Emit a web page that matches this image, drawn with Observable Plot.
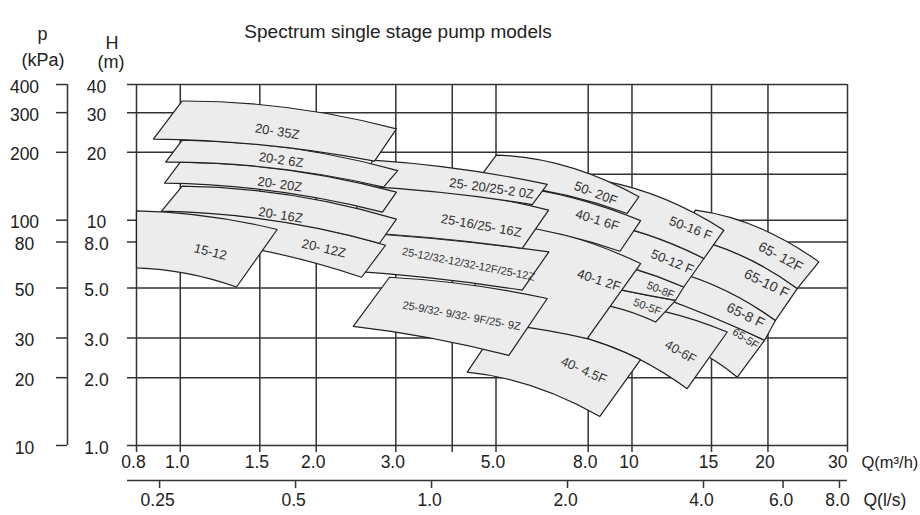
<!DOCTYPE html>
<html>
<head>
<meta charset="utf-8">
<script src="https://cdn.jsdelivr.net/npm/d3@7"></script>
<script src="https://cdn.jsdelivr.net/npm/@observablehq/plot@0.6"></script>
<style>
  html, body { margin: 0; padding: 0; background: #fff; }
  #chart { width: 920px; height: 515px; }
</style>
</head>
<body>
<div id="chart"></div>
<script>
// ---------- data ----------
// Gridlines and tick labels
const qGrid = [0.8, 1, 1.5, 2, 3, 4, 5, 8, 10, 15, 20, 30];            // Q (m3/h) vertical gridlines
const qTicks = [0.8, 1, 1.5, 2, 3, 5, 8, 10, 15, 20, 30];
const qTickLabels = ["0.8", "1.0", "1.5", "2.0", "3.0", "5.0", "8.0", "10", "15", "20", "30"];
const lsTicks = [0.25, 0.5, 1, 2, 4, 6, 8];                              // Q (l/s)
const lsTickLabels = ["0.25", "0.5", "1.0", "2.0", "4.0", "6.0", "8.0"];
const hGrid = [1, 2, 3, 5, 8, 10, 20, 30, 40];                           // H (m)
const hTickLabels = ["1.0", "2.0", "3.0", "5.0", "8.0", "10", "20", "30", "40"];
const pTicks = [10, 20, 30, 50, 80, 100, 200, 300, 400];                  // p (kPa)
const partialGridH = 16;
const partialGridQ = [4.5, 30];

// Pump model patches (drawing order: back to front)
// each patch: top edge (left, middle, right) and bottom edge (left, middle, right)
const patches = ["65-5F", "65-8F", "65-10F", "65-12F", "40-6F", "50-5F", "50-8F", "50-12F", "50-16F", "40-4.5F",
  "40-12F", "40-16F", "50-20F", "25-9", "25-12", "25-16", "25-20", "20-12Z", "20-16Z", "20-20Z", "20-26Z", "20-35Z", "15-12"];
const topQ = [
  [11.28, 15.08, 19.66], [11.57, 15.55, 20.78], [12.81, 17.4, 23.22], [13.82, 18.97, 25.93],
  [8.52, 11.75, 16.25], [7.31, 9.53, 12.49], [7.502, 9.93, 13.02], [8.1, 10.88, 14.43], [8.7, 11.81, 15.98], [5.066, 7.274, 10.45],
  [4.281, 6.671, 10.45], [4.504, 6.842, 10.45], [5.007, 7.199, 10.36],
  [2.905, 4.346, 6.494], [2.382, 3.946, 6.546], [2.533, 4.068, 6.537], [2.665, 4.173, 6.494],
  [0.909, 1.609, 2.847], [1.01, 1.75, 3.01], [1.0, 1.736, 3.01], [1.01, 1.75, 3.03], [1.01, 1.75, 3.01], [0.8, 1.143, 1.639]];
const topH = [
  [4.64, 3.71, 2.93], [6.12, 5.04, 3.59], [8.49, 6.99, 4.97], [11.08, 9.31, 6.53],
  [4.32, 3.94, 3.19], [5.52, 4.89, 4.41], [6.99, 6.15, 5.05], [10, 8.58, 6.76], [14.9, 12.4, 9.03], [3.415, 3.131, 2.404],
  [10, 8.89, 6.42], [14.6, 13.05, 9.95], [19.45, 17.29, 12.7],
  [5.58, 5.17, 4.49], [8.84, 8.15, 7.23], [14.3, 13.32, 11.08], [18.48, 16.86, 14.41],
  [10.96, 10.0, 7.74], [14.16, 12.92, 10.1], [18.1, 16.68, 13.32], [22.68, 20.89, 16.6], [33.8, 31.5, 25.4], [11.0, 10.42, 9.09]];
const bottomQ = [
  [10.99, 13.76, 17.11], [11.28, 15.08, 19.66], [11.57, 15.55, 20.78], [12.81, 17.4, 23.22],
  [7.975, 10.29, 13.25], [6.947, 8.96, 11.28], [7.31, 9.53, 12.49], [7.502, 9.93, 13.02], [8.1, 10.88, 14.43], [4.318, 6.055, 8.49],
  [4.621, 6.055, 7.96], [4.281, 6.339, 9.41], [4.504, 6.637, 9.76],
  [2.415, 3.581, 5.339], [2.322, 3.637, 5.715], [2.382, 3.692, 5.715], [2.533, 3.906, 6.015],
  [0.817, 1.431, 2.52], [0.909, 1.584, 2.762], [0.923, 1.609, 2.803], [0.928, 1.617, 2.818], [0.872, 1.528, 2.692], [0.8, 1.032, 1.332]];
const bottomH = [
  [3.08, 2.67, 2.01], [4.64, 3.71, 2.93], [6.12, 5.04, 3.59], [8.49, 6.99, 4.97],
  [2.973, 2.436, 1.787], [4.41, 4.15, 3.53], [5.52, 4.89, 4.41], [6.99, 6.15, 5.05], [10, 8.58, 6.76], [2.118, 1.829, 1.346],
  [3.522, 3.311, 2.98], [10, 9.03, 7.28], [14.6, 13.32, 10.71],
  [3.38, 3.0, 2.51], [5.97, 5.52, 4.89], [8.84, 8.32, 7.49], [14.16, 13.18, 11.72],
  [8.49, 7.51, 5.58], [10.96, 10.0, 7.9], [14.6, 13.46, 10.85], [18.1, 17.02, 14.02], [22.9, 21.54, 18.29], [6.14, 5.8, 5.05]];

// Patch labels
const labelText = ["20- 35Z", "20-2 6Z", "20- 20Z", "20- 16Z", "20- 12Z", "15-12", "25- 20/25-2 0Z", "25-16/25- 16Z",
  "25-12/32-12/32-12F/25-12Z", "25-9/32- 9/32- 9F/25- 9Z", "50- 20F", "40-1 6F", "40-1 2F", "50-16 F", "50-12 F",
  "50-8F", "50-5F", "65- 12F", "65-10 F", "65-8 F", "65-5F", "40-6F", "40- 4.5F"];
const labelQ = [1.639, 1.673, 1.661, 1.667, 2.079, 1.166, 4.888, 4.638, 4.346, 4.195, 8.31, 8.38, 8.45, 13.48, 12.28,
  11.57, 10.81, 21.33, 19.86, 17.84, 17.84, 12.81, 7.82];
const labelH = [24.69, 18.48, 14.41, 10.52, 7.49, 7.23, 13.83, 9.44, 6.37, 3.76, 13.14, 10, 5.41, 9.19, 6.53,
  4.89, 4.12, 6.87, 5.23, 3.78, 2.98, 2.6, 2.154];
const labelAngle = [9, 8, 8, 9, 13, 14, 8, 10, 11, 10.5, 21, 17, 18, 21, 22, 22, 21, 28, 26, 26, 33, 30, 24];

// ---------- styles ----------
const smallLabels = new Set(["50-8F", "50-5F", "65-5F", "25-12/32-12/32-12F/25-12Z", "25-9/32- 9/32- 9F/25- 9Z"]);
const largeLabels = new Set(["65- 12F", "65-10 F", "65-8 F"]);
const gridColor = "#333";
const inkColor = "#222";
const tickFont = 17.5;

// ---------- derived tables ----------
const patchRows = [];
patches.forEach((name, i) => {
  const pts = [
    [topQ[i][0], topH[i][0]], [topQ[i][1], topH[i][1]], [topQ[i][2], topH[i][2]],
    [bottomQ[i][2], bottomH[i][2]], [bottomQ[i][1], bottomH[i][1]], [bottomQ[i][0], bottomH[i][0]]
  ];
  pts.forEach(([q, h]) => patchRows.push({name, q, h}));
});
const labelRows = labelText.map((t, i) => ({
  t, q: labelQ[i], h: labelH[i], a: labelAngle[i],
  s: smallLabels.has(t) ? 11 : largeLabels.has(t) ? 14 : 13
}));

// Custom curve: 6 points -> curved top (3 pts), straight side, curved bottom (3 pts), straight side
function patchCurve(context) {
  let pts = [];
  const ctrl = (a, m, b) => [2 * m[0] - (a[0] + b[0]) / 2, 2 * m[1] - (a[1] + b[1]) / 2];
  return {
    areaStart() {}, areaEnd() {},
    lineStart() { pts = []; },
    point(x, y) { pts.push([+x, +y]); },
    lineEnd() {
      if (pts.length < 6) return;
      const [t0, t1, t2, b2, b1, b0] = pts;
      const ct = ctrl(t0, t1, t2), cb = ctrl(b2, b1, b0);
      context.moveTo(t0[0], t0[1]);
      context.quadraticCurveTo(ct[0], ct[1], t2[0], t2[1]);
      context.lineTo(b2[0], b2[1]);
      context.quadraticCurveTo(cb[0], cb[1], b0[0], b0[1]);
      context.closePath();
    }
  };
}

const chart = Plot.plot({
  width: 920,
  height: 515,
  marginLeft: 136,
  marginRight: 73,
  marginTop: 84,
  marginBottom: 70,
  x: {type: "log", domain: [0.8, 30], axis: null},
  y: {type: "log", domain: [1, 40], axis: null},
  style: {fontFamily: "'Liberation Sans', Arial, sans-serif", background: "#fff", color: inkColor},
  marks: [
    // grid
    Plot.ruleX(qGrid, {x: d => d, stroke: gridColor, strokeWidth: 1.5, insetBottom: -7}),
    Plot.ruleY(hGrid, {y: d => d, stroke: gridColor, strokeWidth: 1.5, insetLeft: -9}),
    Plot.ruleY([partialGridH], {y: d => d, x1: partialGridQ[0], x2: partialGridQ[1], stroke: gridColor, strokeWidth: 1.5}),
    // p (kPa) axis
    Plot.ruleX([qGrid[0]], {x: d => d, dx: -69, stroke: gridColor, strokeWidth: 1.5}),
    Plot.ruleY(pTicks, {y: d => d / 10, insetLeft: -80, insetRight: 780, stroke: gridColor, strokeWidth: 1.5}),
    // Q (l/s) axis
    Plot.ruleY([hGrid[0]], {y: d => d, dy: 35, insetLeft: -9, stroke: gridColor, strokeWidth: 1.5}),
    Plot.ruleX(lsTicks, {x: d => d * 3.6, y1: 1, y2: 1, insetBottom: -8, dy: 35, stroke: gridColor, strokeWidth: 1.5}),
    // pump model patches
    Plot.line(patchRows, {x: "q", y: "h", z: "name", curve: patchCurve, fill: "#ececec", stroke: inkColor, strokeWidth: 1.2}),
    Plot.text(labelRows, {x: "q", y: "h", text: "t", rotate: "a", fontSize: "s", fill: "#333"}),
    // tick labels
    Plot.text(qTicks.slice(0, -1), {x: d => d, text: (d, i) => qTickLabels[i], frameAnchor: "bottom", dx: -3, dy: 22, fontSize: tickFont, fill: inkColor}),
    Plot.text(qTicks.slice(-1), {x: d => d, text: qTickLabels.slice(-1), frameAnchor: "bottom", textAnchor: "end", dx: 0, dy: 22, fontSize: tickFont, fill: inkColor}),
    Plot.text(lsTicks, {x: d => d * 3.6, text: (d, i) => lsTickLabels[i], frameAnchor: "bottom", dx: -2, dy: 60, fontSize: tickFont, fill: inkColor}),
    Plot.text(hGrid, {y: d => d, text: (d, i) => hTickLabels[i], frameAnchor: "left", dx: -40, dy: 2.5, textAnchor: "middle", fontSize: tickFont, fill: inkColor}),
    Plot.text(pTicks, {y: d => d / 10, text: d => String(d), frameAnchor: "left", dx: -112, dy: 2.5, textAnchor: "middle", fontSize: tickFont, fill: inkColor}),
    // axis titles
    Plot.text(["Q(m³/h)"], {frameAnchor: "bottom-right", dx: 14, dy: 22, textAnchor: "start", fontSize: 16.5, fill: inkColor}),
    Plot.text(["Q(l/s)"], {frameAnchor: "bottom-right", dx: 16, dy: 60, textAnchor: "start", fontSize: tickFont, fill: inkColor}),
    Plot.text(["p"], {frameAnchor: "top-left", dx: -94, dy: -57.5, textAnchor: "middle", fontSize: 18, fill: inkColor}),
    Plot.text(["(kPa)"], {frameAnchor: "top-left", dx: -93.5, dy: -31.5, textAnchor: "middle", fontSize: 18, fill: inkColor}),
    Plot.text(["H"], {frameAnchor: "top-left", dx: -24.5, dy: -48, textAnchor: "middle", fontSize: 18, fill: inkColor}),
    Plot.text(["(m)"], {frameAnchor: "top-left", dx: -25.5, dy: -29, textAnchor: "middle", fontSize: 18, fill: inkColor}),
    Plot.text(["Spectrum single stage pump models"], {frameAnchor: "top-left", dx: 261.5, dy: -60, textAnchor: "middle", fontSize: 19, fill: inkColor})
  ]
});
document.getElementById("chart").appendChild(chart);
</script>
</body>
</html>
